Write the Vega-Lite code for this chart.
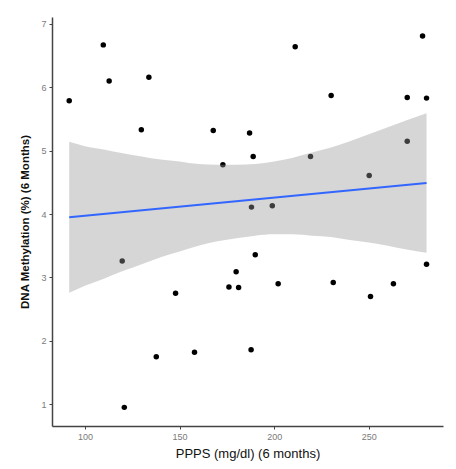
{
  "$schema": "https://vega.github.io/schema/vega-lite/v6.json",
  "width": 391,
  "height": 409,
  "autosize": {"type": "none"},
  "padding": {"left": 52, "top": 17, "right": 13, "bottom": 43},
  "background": "white",
  "config": {
    "view": {"stroke": null},
    "axis": {
      "grid": false,
      "domainColor": "#444444",
      "domainWidth": 1.5,
      "tickColor": "#444444",
      "tickSize": 3,
      "tickWidth": 1,
      "labelColor": "#7a7a7a",
      "labelFont": "Liberation Sans",
      "labelFontSize": 9,
      "titleFont": "Liberation Sans",
      "titleColor": "#111111"
    }
  },
  "datasets": {
    "pts": [
      {"ppps": 91.7, "dna": 5.79},
      {"ppps": 109.7, "dna": 6.67},
      {"ppps": 112.8, "dna": 6.10},
      {"ppps": 133.8, "dna": 6.16},
      {"ppps": 129.8, "dna": 5.33},
      {"ppps": 167.8, "dna": 5.32},
      {"ppps": 187.0, "dna": 5.28},
      {"ppps": 172.9, "dna": 4.78},
      {"ppps": 188.9, "dna": 4.91},
      {"ppps": 211.1, "dna": 6.64},
      {"ppps": 230.1, "dna": 5.87},
      {"ppps": 219.2, "dna": 4.91},
      {"ppps": 270.3, "dna": 5.84},
      {"ppps": 280.5, "dna": 5.83},
      {"ppps": 278.4, "dna": 6.81},
      {"ppps": 270.3, "dna": 5.15},
      {"ppps": 250.2, "dna": 4.61},
      {"ppps": 188.0, "dna": 4.11},
      {"ppps": 199.0, "dna": 4.13},
      {"ppps": 119.7, "dna": 3.26},
      {"ppps": 190.0, "dna": 3.36},
      {"ppps": 179.9, "dna": 3.09},
      {"ppps": 176.1, "dna": 2.85},
      {"ppps": 181.2, "dna": 2.84},
      {"ppps": 147.9, "dna": 2.75},
      {"ppps": 202.1, "dna": 2.90},
      {"ppps": 231.2, "dna": 2.92},
      {"ppps": 280.5, "dna": 3.21},
      {"ppps": 263.0, "dna": 2.90},
      {"ppps": 250.9, "dna": 2.70},
      {"ppps": 137.7, "dna": 1.75},
      {"ppps": 157.9, "dna": 1.82},
      {"ppps": 187.8, "dna": 1.86},
      {"ppps": 120.8, "dna": 0.95}
    ],
    "band": [
      {"ppps": 91.7, "lo": 2.76, "hi": 5.14},
      {"ppps": 100, "lo": 2.87, "hi": 5.07},
      {"ppps": 110, "lo": 2.98, "hi": 5.02},
      {"ppps": 120, "lo": 3.10, "hi": 4.96},
      {"ppps": 130, "lo": 3.21, "hi": 4.91},
      {"ppps": 140, "lo": 3.32, "hi": 4.86},
      {"ppps": 150, "lo": 3.41, "hi": 4.83},
      {"ppps": 160, "lo": 3.50, "hi": 4.79},
      {"ppps": 170, "lo": 3.57, "hi": 4.78},
      {"ppps": 180, "lo": 3.62, "hi": 4.78},
      {"ppps": 190, "lo": 3.66, "hi": 4.79},
      {"ppps": 200, "lo": 3.68, "hi": 4.83},
      {"ppps": 210, "lo": 3.68, "hi": 4.89},
      {"ppps": 220, "lo": 3.66, "hi": 4.97},
      {"ppps": 230, "lo": 3.64, "hi": 5.05},
      {"ppps": 240, "lo": 3.59, "hi": 5.15},
      {"ppps": 250, "lo": 3.55, "hi": 5.26},
      {"ppps": 260, "lo": 3.50, "hi": 5.37},
      {"ppps": 270, "lo": 3.44, "hi": 5.48},
      {"ppps": 280.5, "lo": 3.39, "hi": 5.59}
    ],
    "line": [
      {"ppps": 91.7, "fit": 3.95},
      {"ppps": 280.5, "fit": 4.49}
    ]
  },
  "layer": [
    {
      "data": {"name": "pts"},
      "mark": {"type": "point", "filled": true, "size": 30, "color": "#000000", "opacity": 1},
      "encoding": {
        "x": {
          "field": "ppps", "type": "quantitative",
          "scale": {"domain": [82.6, 289.2], "nice": false, "zero": false},
          "axis": {"values": [100, 150, 200, 250], "format": "d", "title": "PPPS (mg/dl) (6 months)", "titleFontSize": 13, "titleFontWeight": "normal", "titlePadding": 6, "labelPadding": 3}
        },
        "y": {
          "field": "dna", "type": "quantitative",
          "scale": {"domain": [0.656, 7.11], "nice": false, "zero": false},
          "axis": {"values": [1, 2, 3, 4, 5, 6, 7], "format": "d", "title": "DNA Methylation (%) (6 Months)", "titleFontSize": 11.5, "titleFontWeight": "bold", "titlePadding": 10, "labelPadding": 3}
        }
      }
    },
    {
      "data": {"name": "band"},
      "mark": {"type": "area", "color": "#999999", "opacity": 0.4, "interpolate": "monotone"},
      "encoding": {
        "x": {"field": "ppps", "type": "quantitative"},
        "y": {"field": "lo", "type": "quantitative"},
        "y2": {"field": "hi"}
      }
    },
    {
      "data": {"name": "line"},
      "mark": {"type": "line", "color": "#3366FF", "strokeWidth": 2},
      "encoding": {
        "x": {"field": "ppps", "type": "quantitative"},
        "y": {"field": "fit", "type": "quantitative"}
      }
    }
  ]
}
